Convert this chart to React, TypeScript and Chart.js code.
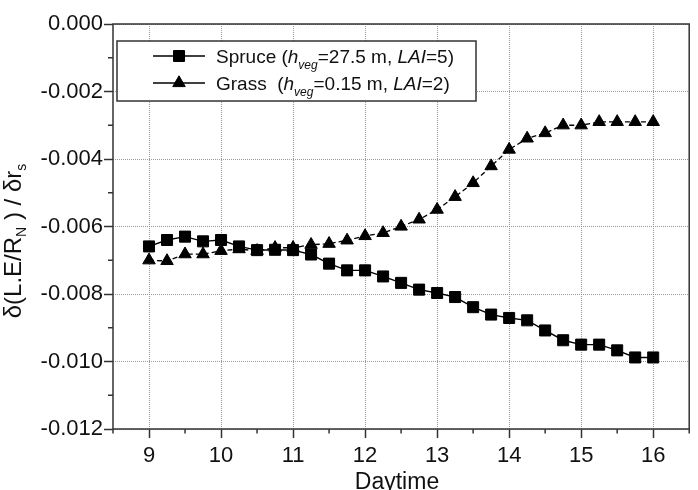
import { useEffect, useRef } from 'react';
import { Chart, registerables } from 'chart.js';

Chart.register(...registerables);

const FONT = '"Liberation Sans", Arial, Helvetica, sans-serif';

// Time of day (h), every quarter hour
const hours = [
  9.0, 9.25, 9.5, 9.75, 10.0, 10.25, 10.5, 10.75, 11.0, 11.25, 11.5, 11.75, 12.0, 12.25, 12.5,
  12.75, 13.0, 13.25, 13.5, 13.75, 14.0, 14.25, 14.5, 14.75, 15.0, 15.25, 15.5, 15.75, 16.0,
];

// Sensitivity of L.E/R_N to the stomatal resistance
const spruce = [
  -0.00659, -0.0064, -0.0063, -0.00644, -0.0064, -0.00659, -0.0067, -0.00669, -0.0067, -0.00683,
  -0.0071, -0.0073, -0.0073, -0.00748, -0.00767, -0.00787, -0.00797, -0.00809, -0.00839, -0.00861,
  -0.00871, -0.00878, -0.00908, -0.00937, -0.0095, -0.0095, -0.00967, -0.00988, -0.00988,
];

const grass = [
  -0.007, -0.00702, -0.00682, -0.00682, -0.00672, -0.00667, -0.00672, -0.00663, -0.00663, -0.00654,
  -0.00651, -0.00641, -0.00628, -0.00619, -0.006, -0.00579, -0.0055, -0.00512, -0.00471, -0.00421,
  -0.00372, -0.00339, -0.00323, -0.003, -0.003, -0.0029, -0.0029, -0.0029, -0.0029,
];

const xTicks = [9, 10, 11, 12, 13, 14, 15, 16];
const xMinorTicks = [8.5, 9.5, 10.5, 11.5, 12.5, 13.5, 14.5, 15.5, 16.5];
const yTicks = [0, -0.002, -0.004, -0.006, -0.008, -0.01, -0.012];
const yMinorTicks = [-0.001, -0.003, -0.005, -0.007, -0.009, -0.011];

const xTitle = 'Daytime';

type Seg = { t: string; it?: boolean; sub?: boolean };

const yTitle: Seg[] = [
  { t: 'δ(L.E/R' },
  { t: 'N', sub: true },
  { t: ' ) / δr' },
  { t: 's', sub: true },
];

const legendRows: { style: 'rect' | 'triangle'; segs: Seg[] }[] = [
  {
    style: 'rect',
    segs: [
      { t: 'Spruce (' },
      { t: 'h', it: true },
      { t: 'veg', it: true, sub: true },
      { t: '=27.5 m, ' },
      { t: 'LAI', it: true },
      { t: '=5)' },
    ],
  },
  {
    style: 'triangle',
    segs: [
      { t: 'Grass  (' },
      { t: 'h', it: true },
      { t: 'veg', it: true, sub: true },
      { t: '=0.15 m, ' },
      { t: 'LAI', it: true },
      { t: '=2)' },
    ],
  },
];

function setFont(ctx: CanvasRenderingContext2D, size: number, italic?: boolean) {
  ctx.font = `${italic ? 'italic ' : ''}${size}px ${FONT}`;
}

function richWidth(ctx: CanvasRenderingContext2D, segs: Seg[], size: number, subSize: number) {
  let w = 0;
  for (const s of segs) {
    setFont(ctx, s.sub ? subSize : size, s.it);
    w += ctx.measureText(s.t).width;
  }
  return w;
}

function drawRich(
  ctx: CanvasRenderingContext2D,
  segs: Seg[],
  x: number,
  y: number,
  size: number,
  subSize: number,
  subDrop: number,
) {
  let cx = x;
  for (const s of segs) {
    setFont(ctx, s.sub ? subSize : size, s.it);
    ctx.fillText(s.t, cx, s.sub ? y + subDrop : y);
    cx += ctx.measureText(s.t).width;
  }
}

function drawMarker(ctx: CanvasRenderingContext2D, style: 'rect' | 'triangle', x: number, y: number) {
  ctx.beginPath();
  if (style === 'rect') {
    const h = 5.5;
    ctx.rect(x - h, y - h, 2 * h, 2 * h);
  } else {
    const r = 7.2;
    ctx.moveTo(x, y - r);
    ctx.lineTo(x + r * Math.sin((2 * Math.PI) / 3), y + r / 2);
    ctx.lineTo(x - r * Math.sin((2 * Math.PI) / 3), y + r / 2);
    ctx.closePath();
  }
  ctx.fill();
  ctx.stroke();
}

const framePlugin = {
  id: 'frameAndLabels',
  beforeDatasetsDraw(chart: Chart) {
    const { ctx, chartArea } = chart;
    const { left, top, right, bottom } = chartArea;
    const xs = chart.scales.x;
    const ys = chart.scales.y;
    ctx.save();
    ctx.strokeStyle = '#333';
    ctx.lineWidth = 1.5;
    ctx.strokeRect(left, top, right - left, bottom - top);
    // minor tick marks
    ctx.beginPath();
    for (const v of xMinorTicks) {
      const px = xs.getPixelForValue(v);
      ctx.moveTo(px, bottom);
      ctx.lineTo(px, bottom + 4.5);
    }
    for (const v of yMinorTicks) {
      const py = ys.getPixelForValue(v);
      ctx.moveTo(left, py);
      ctx.lineTo(left - 5, py);
    }
    ctx.stroke();
    ctx.restore();
  },
  afterDraw(chart: Chart) {
    const { ctx, chartArea } = chart;
    const { left, top } = chartArea;
    ctx.save();
    ctx.fillStyle = '#111';
    ctx.textBaseline = 'alphabetic';

    // x axis title
    setFont(ctx, 23);
    ctx.textAlign = 'center';
    ctx.fillText(xTitle, 397, 489);

    // y axis title, rotated
    ctx.textAlign = 'left';
    const ySize = 24;
    const ySub = 14;
    const yw = richWidth(ctx, yTitle, ySize, ySub);
    ctx.translate(21, 241);
    ctx.rotate(-Math.PI / 2);
    drawRich(ctx, yTitle, -yw / 2, 0, ySize, ySub, 5);
    ctx.setTransform(1, 0, 0, 1, 0, 0);

    // legend
    const bx = left + 4;
    const by = top + 17;
    ctx.fillStyle = '#fff';
    ctx.fillRect(bx, by, 359, 60);
    ctx.strokeStyle = '#333';
    ctx.lineWidth = 1.5;
    ctx.strokeRect(bx, by, 359, 60);
    legendRows.forEach((row, i) => {
      const ry = by + 15 + i * 27;
      ctx.strokeStyle = '#000';
      ctx.lineWidth = 1.3;
      ctx.beginPath();
      ctx.moveTo(bx + 36, ry);
      ctx.lineTo(bx + 88, ry);
      ctx.stroke();
      ctx.fillStyle = '#000';
      ctx.lineWidth = 1;
      drawMarker(ctx, row.style, bx + 62, ry);
      ctx.fillStyle = '#111';
      drawRich(ctx, row.segs, bx + 99, ry + 7, 19, 12, 6);
    });
    ctx.restore();
  },
};

export default function App() {
  const ref = useRef<HTMLCanvasElement | null>(null);

  useEffect(() => {
    document.body.style.margin = '0';
    const canvas = ref.current;
    if (!canvas) return;
    Chart.defaults.font.family = FONT;

    const chart = new Chart(canvas, {
      type: 'line',
      data: {
        datasets: [
          {
            label: 'Spruce',
            data: hours.map((h, i) => ({ x: h, y: spruce[i] })),
            borderColor: '#000',
            backgroundColor: '#000',
            borderWidth: 1.4,
            pointStyle: 'rect',
            pointRadius: 7.8,
            pointBorderWidth: 1,
            tension: 0,
            order: 1,
          },
          {
            label: 'Grass',
            data: hours.map((h, i) => ({ x: h, y: grass[i] })),
            borderColor: '#000',
            backgroundColor: '#000',
            borderWidth: 1.3,
            borderDash: [5, 3],
            pointStyle: 'triangle',
            pointRadius: 7.2,
            pointBorderWidth: 1,
            tension: 0,
            order: 0,
          },
        ],
      },
      options: {
        animation: false,
        responsive: false,
        layout: { padding: { top: 24, right: 7, left: 0, bottom: 0 } },
        plugins: { legend: { display: false }, tooltip: { enabled: false } },
        scales: {
          x: {
            type: 'linear',
            min: 8.5,
            max: 16.5,
            afterBuildTicks: (s: any) => {
              s.ticks = xTicks.map((v) => ({ value: v }));
            },
            afterFit: (s: any) => {
              s.height = 61;
            },
            grid: {
              color: '#999',
              lineWidth: 1,
              tickLength: 9,
              tickColor: '#333',
              tickWidth: 1.5,
              tickBorderDash: [],
            },
            border: { display: false, dash: [1, 1] },
            ticks: {
              font: { size: 22, family: FONT },
              color: '#111',
              padding: 5,
              maxRotation: 0,
              callback: (v: any) => String(v),
            },
          },
          y: {
            type: 'linear',
            min: -0.012,
            max: 0,
            afterBuildTicks: (s: any) => {
              s.ticks = yTicks.map((v) => ({ value: v }));
            },
            afterFit: (s: any) => {
              s.width = 113;
            },
            grid: {
              color: '#999',
              lineWidth: 1,
              tickLength: 9,
              tickColor: '#333',
              tickWidth: 1.5,
              tickBorderDash: [],
            },
            border: { display: false, dash: [1, 1] },
            ticks: {
              font: { size: 22, family: FONT },
              color: '#111',
              padding: 1,
              callback: (v: any) => Number(v).toFixed(3),
            },
          },
        },
      },
      plugins: [framePlugin],
    });

    return () => chart.destroy();
  }, []);

  return (
    <div style={{ width: 698, height: 490 }}>
      <canvas ref={ref} width={698} height={490} style={{ display: 'block' }} />
    </div>
  );
}
